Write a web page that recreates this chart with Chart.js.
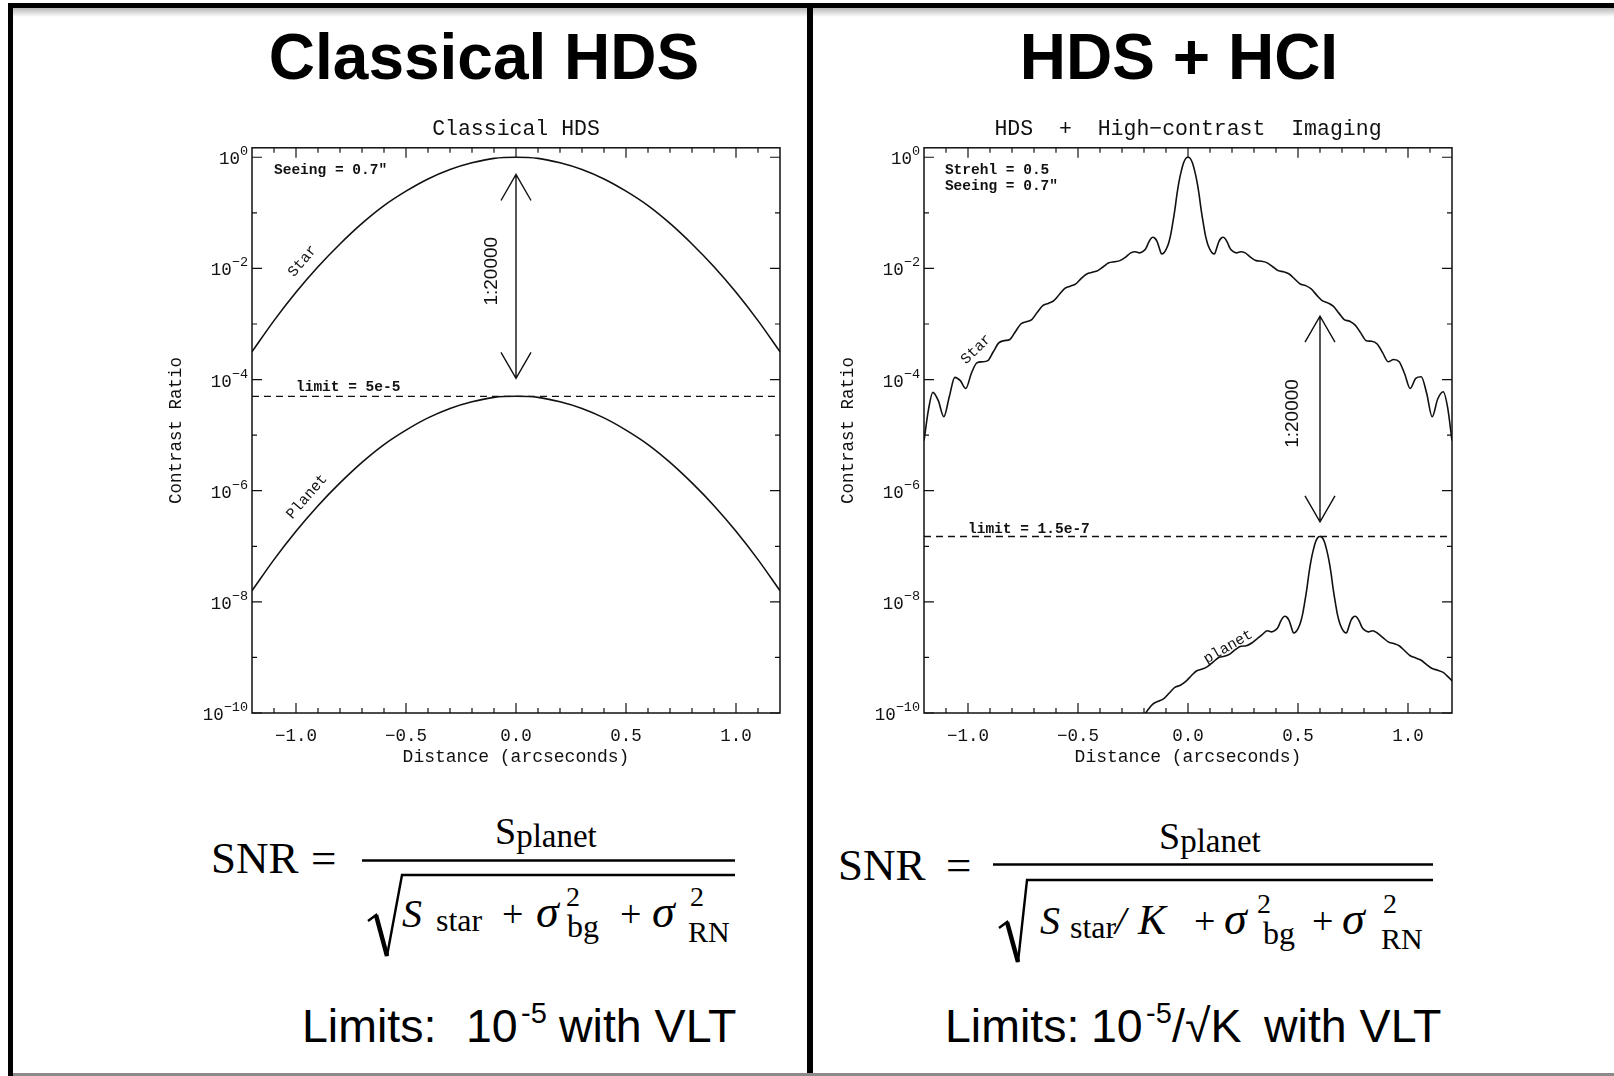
<!DOCTYPE html>
<html>
<head>
<meta charset="utf-8">
<title>HDS vs HDS + HCI</title>
<script src="https://cdn.jsdelivr.net/npm/chart.js@4.4.1/dist/chart.umd.min.js"></script>
<style>
  html, body { margin: 0; padding: 0; background: #fff; }
  body { width: 1614px; height: 1076px; position: relative; overflow: hidden; }
  #deco { position: absolute; left: 0; top: 0; }
  .plot { position: absolute; top: 100px; }
  #leftPlot { left: 140px; }
  #rightPlot { left: 812px; }
  .serif { font-family: "Liberation Serif", "Times New Roman", serif; }
  .sans { font-family: "Liberation Sans", Arial, sans-serif; }
</style>
</head>
<body>

<svg id="deco" width="1614" height="1076">
  <defs>
    <linearGradient id="shade" x1="0" y1="0" x2="0" y2="1">
      <stop offset="0" stop-color="#000" stop-opacity="0.28"/>
      <stop offset="1" stop-color="#000" stop-opacity="0"/>
    </linearGradient>
  </defs>
  <!-- panel frame -->
  <rect x="13" y="8" width="1601" height="9" fill="url(#shade)"/>
  <rect x="8" y="3" width="1606" height="5" fill="#000"/>
  <rect x="8" y="3" width="5" height="1073" fill="#000"/>
  <rect x="807" y="3" width="6" height="1073" fill="#000"/>
  <rect x="13" y="1073" width="1601" height="3" fill="#8a8a8a"/>

  <!-- panel headings -->
  <text class="sans" x="484" y="79" text-anchor="middle" font-weight="bold" font-size="64">Classical HDS</text>
  <text class="sans" x="1179" y="79" text-anchor="middle" font-weight="bold" font-size="64">HDS + HCI</text>

  <!-- SNR, classical -->
  <g class="serif" fill="#000">
    <text x="211" y="873" font-size="45">SNR</text>
    <text x="311" y="873" font-size="45">=</text>
    <text x="495" y="844" font-size="38">S<tspan font-size="33" dy="3">planet</tspan></text>
    <line x1="362" y1="860.5" x2="735" y2="860.5" stroke="#000" stroke-width="2.4"/>
    <path d="M368 921 L376 915 L387 956 L402 875 L735 875" fill="none" stroke="#000" stroke-width="2.4"/>
    <path d="M376 915 L387 956" stroke="#000" stroke-width="4.5"/>
    <text x="402" y="926.5" font-size="40" font-style="italic">S</text>
    <text x="436" y="931" font-size="32">star</text>
    <text x="502" y="926.5" font-size="38">+</text>
    <text x="536" y="926.5" font-size="46" font-style="italic">σ</text>
    <text x="566" y="906" font-size="28">2</text>
    <text x="567" y="937" font-size="32">bg</text>
    <text x="620" y="926.5" font-size="38">+</text>
    <text x="652" y="926.5" font-size="46" font-style="italic">σ</text>
    <text x="690" y="906" font-size="28">2</text>
    <text x="688" y="942" font-size="30">RN</text>
  </g>

  <!-- SNR, with high-contrast imaging -->
  <g class="serif" fill="#000">
    <text x="838" y="880" font-size="45">SNR</text>
    <text x="946" y="880" font-size="45">=</text>
    <text x="1159" y="849" font-size="38">S<tspan font-size="33" dy="3">planet</tspan></text>
    <line x1="993" y1="864.5" x2="1433" y2="864.5" stroke="#000" stroke-width="2.4"/>
    <path d="M999 928 L1007 922 L1018 962 L1027 880 L1433 880" fill="none" stroke="#000" stroke-width="2.4"/>
    <path d="M1007 922 L1018 962" stroke="#000" stroke-width="4.5"/>
    <text x="1040" y="933.5" font-size="40" font-style="italic">S</text>
    <text x="1070" y="938" font-size="32">star</text>
    <text x="1115" y="933.5" font-size="40" font-style="italic">/</text>
    <text x="1138" y="933.5" font-size="42" font-style="italic">K</text>
    <text x="1194" y="933.5" font-size="38">+</text>
    <text x="1224" y="933.5" font-size="46" font-style="italic">σ</text>
    <text x="1257" y="913" font-size="28">2</text>
    <text x="1263" y="944" font-size="32">bg</text>
    <text x="1312" y="933.5" font-size="38">+</text>
    <text x="1342" y="933.5" font-size="46" font-style="italic">σ</text>
    <text x="1383" y="913" font-size="28">2</text>
    <text x="1381" y="949" font-size="30">RN</text>
  </g>

  <!-- achievable limits -->
  <g class="sans" fill="#000" font-size="46.5">
    <text x="302" y="1042">Limits:</text>
    <text x="466" y="1042">10</text>
    <text x="521" y="1023" font-size="29">-5</text>
    <text x="559" y="1042">with VLT</text>
    <text x="945" y="1042">Limits:</text>
    <text x="1091" y="1042">10</text>
    <text x="1146" y="1023" font-size="29">-5</text>
    <text x="1172" y="1042">/√K</text>
    <text x="1264" y="1042">with VLT</text>
  </g>
</svg>

<div class="plot" id="leftPlot"><canvas id="leftChart" width="752" height="680"></canvas></div>
<div class="plot" id="rightPlot"><canvas id="rightChart" width="752" height="680"></canvas></div>

<script>
// axis layout shared by both panels
const xRange = [-1.2, 1.2];
const xTickValues = [-1.0, -0.5, 0.0, 0.5, 1.0];
const yTickExps = [0, -2, -4, -6, -8, -10];

// Seeing-limited case: contrast given as log10, star and planet share the same profile
const seeingX = [-1.2, -1.1, -1.0, -0.9, -0.8, -0.7, -0.6, -0.5, -0.4, -0.3, -0.2, -0.1, 0.0,
                 0.1, 0.2, 0.3, 0.4, 0.5, 0.6, 0.7, 0.8, 0.9, 1.0, 1.1, 1.2];
const seeingStarLog = [-3.50, -2.94, -2.43, -1.97, -1.56, -1.19, -0.87, -0.61, -0.39, -0.22, -0.10, -0.02, 0.00,
                       -0.02, -0.10, -0.22, -0.39, -0.61, -0.87, -1.19, -1.56, -1.97, -2.43, -2.94, -3.50];
const seeingPlanetLog = [-7.80, -7.24, -6.73, -6.27, -5.86, -5.49, -5.17, -4.91, -4.69, -4.52, -4.40, -4.32, -4.301,
                         -4.32, -4.40, -4.52, -4.69, -4.91, -5.17, -5.49, -5.86, -6.27, -6.73, -7.24, -7.80];
const seeingLimit = 5e-5;

// AO-corrected case (Strehl 0.5): diffraction core, Airy rings and seeing halo
const aoStarX = [-1.2, -1.18, -1.16, -1.135, -1.11, -1.085, -1.06, -1.035, -1.01, -0.985, -0.96, -0.935,
  -0.91, -0.885, -0.86, -0.835, -0.81, -0.785, -0.76, -0.735, -0.71, -0.685, -0.66, -0.635,
  -0.61, -0.585, -0.56, -0.535, -0.51, -0.485, -0.46, -0.435, -0.41, -0.385, -0.36, -0.335,
  -0.31, -0.285, -0.26, -0.24, -0.22, -0.20, -0.19, -0.18, -0.17, -0.16, -0.15, -0.14,
  -0.13, -0.12, -0.11, -0.10, -0.09, -0.08, -0.07, -0.06, -0.05, -0.04, -0.03, -0.02, -0.01, 0.0,
  0.01, 0.02, 0.03, 0.04, 0.05, 0.06, 0.07, 0.08, 0.09, 0.10, 0.11, 0.12, 0.13, 0.14,
  0.15, 0.16, 0.17, 0.18, 0.19, 0.20, 0.22, 0.24, 0.26, 0.285, 0.31, 0.335,
  0.36, 0.385, 0.41, 0.435, 0.46, 0.485, 0.51, 0.535, 0.56, 0.585, 0.61, 0.635,
  0.66, 0.685, 0.71, 0.735, 0.76, 0.785, 0.81, 0.835, 0.86, 0.885, 0.91, 0.935,
  0.96, 0.985, 1.01, 1.035, 1.06, 1.085, 1.11, 1.135, 1.16, 1.18, 1.2];
const aoStarLog = [-5.10, -4.55, -4.23, -4.38, -4.67, -4.31, -3.96, -4.02, -4.16, -3.89, -3.70, -3.68,
  -3.66, -3.50, -3.34, -3.30, -3.28, -3.14, -3.00, -2.96, -2.92, -2.79, -2.67, -2.63,
  -2.58, -2.47, -2.36, -2.32, -2.28, -2.18, -2.10, -2.07, -2.04, -1.97, -1.90, -1.88,
  -1.86, -1.80, -1.72, -1.70, -1.72, -1.68, -1.63, -1.54, -1.47, -1.44, -1.46, -1.52,
  -1.64, -1.74, -1.72, -1.66, -1.57, -1.42, -1.20, -0.95, -0.66, -0.42, -0.24, -0.10, -0.02, 0.00,
  -0.02, -0.10, -0.24, -0.42, -0.66, -0.95, -1.20, -1.42, -1.57, -1.66, -1.72, -1.74, -1.64, -1.52,
  -1.46, -1.44, -1.47, -1.54, -1.63, -1.68, -1.72, -1.70, -1.72, -1.80, -1.86, -1.87,
  -1.90, -1.97, -2.04, -2.06, -2.10, -2.19, -2.28, -2.31, -2.37, -2.48, -2.58, -2.62,
  -2.68, -2.80, -2.92, -2.95, -3.02, -3.16, -3.30, -3.31, -3.36, -3.52, -3.68, -3.64,
  -3.68, -3.90, -4.16, -3.98, -3.95, -4.25, -4.67, -4.35, -4.22, -4.50, -5.10];

const aoPlanetX = [-0.21, -0.185, -0.16, -0.135, -0.11, -0.085, -0.06, -0.035, -0.01, 0.015, 0.04, 0.065,
  0.09, 0.115, 0.14, 0.165, 0.19, 0.215, 0.24, 0.265, 0.29, 0.315, 0.34, 0.36,
  0.38, 0.40, 0.41, 0.42, 0.43, 0.44, 0.45, 0.46, 0.47, 0.48, 0.49, 0.50,
  0.51, 0.52, 0.53, 0.54, 0.55, 0.56, 0.57, 0.58, 0.59, 0.60, 0.61, 0.62,
  0.63, 0.64, 0.65, 0.66, 0.67, 0.68, 0.69, 0.70, 0.71, 0.72, 0.73, 0.74,
  0.75, 0.76, 0.77, 0.78, 0.79, 0.80, 0.82, 0.84, 0.86, 0.885, 0.91, 0.935,
  0.96, 0.985, 1.01, 1.035, 1.06, 1.085, 1.11, 1.135, 1.16, 1.185, 1.21];
const aoPlanetLog = [-10.10, -9.96, -9.84, -9.79, -9.74, -9.64, -9.54, -9.50, -9.43, -9.33, -9.24, -9.21,
  -9.16, -9.08, -9.00, -8.98, -8.94, -8.86, -8.80, -8.79, -8.74, -8.66, -8.58, -8.52,
  -8.54, -8.50, -8.45, -8.36, -8.29, -8.26, -8.28, -8.34, -8.46, -8.56, -8.54, -8.48,
  -8.39, -8.24, -8.02, -7.77, -7.48, -7.24, -7.06, -6.92, -6.84, -6.824, -6.84, -6.92,
  -7.06, -7.24, -7.48, -7.77, -8.02, -8.24, -8.39, -8.48, -8.54, -8.56, -8.46, -8.34,
  -8.28, -8.26, -8.29, -8.36, -8.45, -8.50, -8.54, -8.52, -8.56, -8.64, -8.72, -8.75,
  -8.79, -8.88, -8.97, -9.01, -9.05, -9.13, -9.20, -9.23, -9.27, -9.36, -9.46];
const aoLimit = 1.5e-7;

const MONO = '"Liberation Mono", "DejaVu Sans Mono", monospace';
const INK = '#111';

const toPoints = (xs, logs) => xs.map((x, i) => ({x, y: Math.pow(10, logs[i])}));

// IDL-style box: inward ticks on all four sides, superscript decade labels,
// double-headed arrow and text notes placed in data coordinates
const idlFrame = {
  id: 'idlFrame',
  afterDatasetsDraw(chart, args, opts) {
    const {ctx, chartArea: a, scales: {x, y}} = chart;
    ctx.save();
    ctx.strokeStyle = INK;
    ctx.fillStyle = INK;
    ctx.lineWidth = 1.5;
    ctx.strokeRect(a.left, a.top, a.width, a.height);

    ctx.lineWidth = 1.2;
    ctx.beginPath();
    for (let i = -11; i <= 11; i++) {
      const px = x.getPixelForValue(i / 10);
      const len = i % 5 === 0 ? 10 : 5;
      ctx.moveTo(px, a.bottom); ctx.lineTo(px, a.bottom - len);
      ctx.moveTo(px, a.top); ctx.lineTo(px, a.top + len);
    }
    for (let e = 0; e >= -10; e--) {
      const py = y.getPixelForValue(Math.pow(10, e));
      const len = e % 2 === 0 ? 10 : 5;
      ctx.moveTo(a.left, py); ctx.lineTo(a.left + len, py);
      ctx.moveTo(a.right, py); ctx.lineTo(a.right - len, py);
    }
    ctx.stroke();

    // decade labels, 10 with a raised exponent
    ctx.textBaseline = 'alphabetic';
    yTickExps.forEach(e => {
      const py = y.getPixelForValue(Math.pow(10, e));
      const sup = e === 0 ? '0' : '\u2212' + (-e);
      ctx.font = '13.5px ' + MONO;
      const wSup = ctx.measureText(sup).width;
      ctx.font = '17.5px ' + MONO;
      const wBase = ctx.measureText('10').width;
      const right = a.left - 4;
      ctx.fillText('10', right - wSup - wBase, py + 7);
      ctx.font = '13.5px ' + MONO;
      ctx.fillText(sup, right - wSup, py - 2);
    });

    const ar = opts.arrow;
    if (ar) {
      const ax = x.getPixelForValue(ar.x);
      const y1 = y.getPixelForValue(ar.from);
      const y2 = y.getPixelForValue(ar.to);
      ctx.lineWidth = 1.4;
      ctx.beginPath();
      ctx.moveTo(ax, y1); ctx.lineTo(ax, y2);
      ctx.moveTo(ax - 15, y1 + 26); ctx.lineTo(ax, y1); ctx.lineTo(ax + 15, y1 + 26);
      ctx.moveTo(ax - 15, y2 - 26); ctx.lineTo(ax, y2); ctx.lineTo(ax + 15, y2 - 26);
      ctx.stroke();
    }

    (opts.notes || []).forEach(n => {
      ctx.save();
      ctx.translate(x.getPixelForValue(n.x), y.getPixelForValue(n.y));
      ctx.rotate((n.rot || 0) * Math.PI / 180);
      ctx.font = n.font;
      ctx.textAlign = n.align || 'center';
      ctx.textBaseline = 'middle';
      ctx.fillText(n.text, 0, 0);
      ctx.restore();
    });
    ctx.restore();
  }
};

function curve(points, extra) {
  return Object.assign({
    data: points,
    borderColor: INK,
    borderWidth: 1.6,
    pointRadius: 0,
    fill: false,
    cubicInterpolationMode: 'monotone'
  }, extra);
}

function makeChart(canvasId, title, star, planet, limit, arrow, notes) {
  const limitLine = xRange.map(v => ({x: v, y: limit}));
  return new Chart(document.getElementById(canvasId), {
    type: 'line',
    data: {
      datasets: [
        curve(star),
        curve(planet),
        curve(limitLine, {borderWidth: 1.3, borderDash: [7, 5], cubicInterpolationMode: 'default'})
      ]
    },
    options: {
      responsive: false,
      animation: false,
      layout: {padding: {left: 0, right: 112, top: 0, bottom: 0}},
      plugins: {
        legend: {display: false},
        tooltip: {enabled: false},
        title: {
          display: true,
          fullSize: false,
          text: title,
          color: INK,
          font: {family: MONO, size: 21.5, weight: 'normal'},
          padding: {top: 16, bottom: 6}
        },
        idlFrame: {arrow, notes}
      },
      scales: {
        x: {
          type: 'linear',
          min: xRange[0],
          max: xRange[1],
          afterBuildTicks: s => { s.ticks = xTickValues.map(value => ({value})); },
          afterFit: s => { s.height = 67; },
          grid: {display: false},
          border: {display: false},
          ticks: {
            color: INK,
            padding: 5,
            font: {family: MONO, size: 17.5},
            callback: v => v.toFixed(1).replace('-', '\u2212')
          },
          title: {
            display: true,
            text: 'Distance (arcseconds)',
            color: INK,
            font: {family: MONO, size: 18},
            padding: {top: 0, bottom: 12}
          }
        },
        y: {
          type: 'logarithmic',
          min: 1e-10,
          max: 1.48,
          afterBuildTicks: s => { s.ticks = yTickExps.map(e => ({value: Math.pow(10, e)})); },
          afterFit: s => { s.width = 112; },
          grid: {display: false},
          border: {display: false},
          ticks: {display: false},
          title: {
            display: true,
            text: 'Contrast Ratio',
            color: INK,
            font: {family: MONO, size: 17.5},
            padding: {top: 26, bottom: 0}
          }
        }
      }
    },
    plugins: [idlFrame]
  });
}

const noteFont = 'bold 14.5px ' + MONO;
const labelFont = '15px ' + MONO;
const ratioFont = '19px "Liberation Sans", Arial, sans-serif';

makeChart('leftChart', 'Classical HDS',
  toPoints(seeingX, seeingStarLog),
  toPoints(seeingX, seeingPlanetLog),
  seeingLimit,
  {x: 0, from: 0.49, to: 1.05e-4},
  [
    {text: 'Seeing = 0.7\u2033', x: -1.10, y: 0.59, align: 'left', font: noteFont},
    {text: 'Star', x: -0.97, y: 0.0135, rot: -50, font: labelFont},
    {text: 'Planet', x: -0.95, y: 7.8e-7, rot: -49, font: labelFont},
    {text: 'limit = 5e-5', x: -1.0, y: 7.2e-5, align: 'left', font: noteFont},
    {text: '1:20000', x: -0.11, y: 8.9e-3, rot: -90, font: ratioFont}
  ]);

makeChart('rightChart', 'HDS  +  High\u2212contrast  Imaging',
  toPoints(aoStarX, aoStarLog),
  toPoints(aoPlanetX, aoPlanetLog),
  aoLimit,
  {x: 0.6, from: 1.38e-3, to: 2.75e-7},
  [
    {text: 'Strehl = 0.5', x: -1.105, y: 0.59, align: 'left', font: noteFont},
    {text: 'Seeing = 0.7\u2033', x: -1.105, y: 0.295, align: 'left', font: noteFont},
    {text: 'Star', x: -0.963, y: 3.5e-4, rot: -44, font: labelFont},
    {text: 'planet', x: 0.183, y: 1.55e-9, rot: -30, font: labelFont},
    {text: 'limit = 1.5e-7', x: -1.0, y: 2.0e-7, align: 'left', font: noteFont},
    {text: '1:20000', x: 0.475, y: 2.45e-5, rot: -90, font: ratioFont}
  ]);
</script>
</body>
</html>
